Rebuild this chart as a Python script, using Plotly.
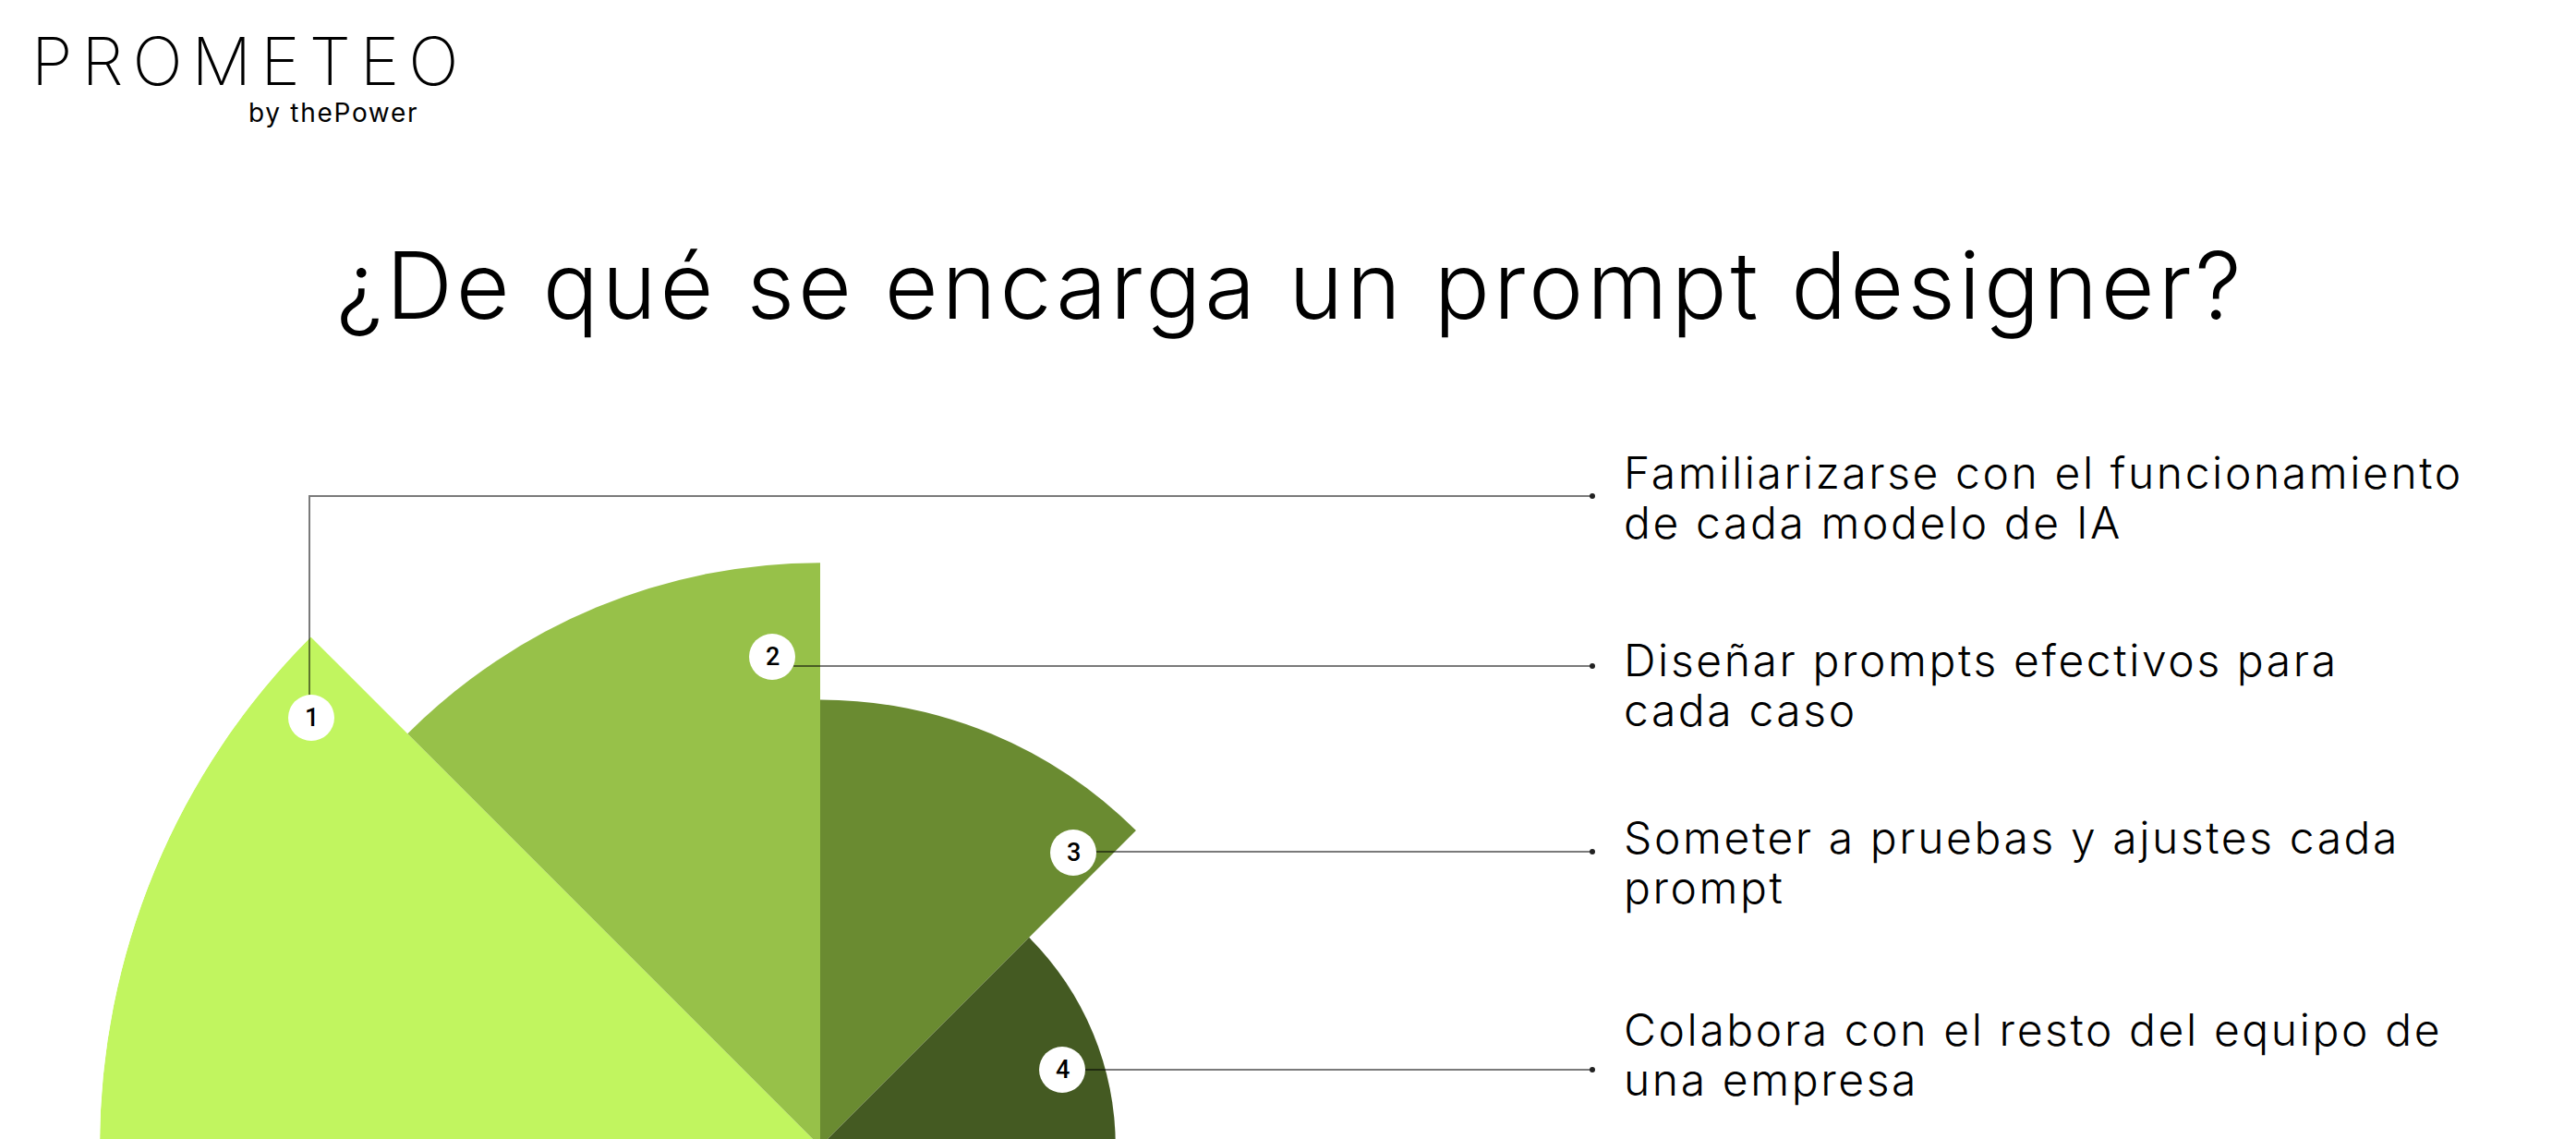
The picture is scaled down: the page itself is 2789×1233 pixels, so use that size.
import plotly.graph_objects as go

W, H = 2789, 1233

# ---- data ----
steps = ["1", "2", "3", "4"]
values = [100, 81, 62, 41]
theta_centers = [157.5, 112.5, 67.5, 22.5]
sector_width = [45, 45, 45, 45]
colors = ["#C1F55F", "#97C149", "#6A8B31", "#445A22"]
desc_line1 = ["Familiarizarse con el funcionamiento",
              "Diseñar prompts efectivos para",
              "Someter a pruebas y ajustes cada",
              "Colabora con el resto del equipo de"]
desc_line2 = ["de cada modelo de IA", "cada caso", "prompt", "una empresa"]
title_text = "¿De qué se encarga un prompt designer?"
logo_text = "PROMETEO"
logo_sub = "by thePower"

# ---- layout constants (pixels) ----
CX, R = 880, 780
badge_xy = [(329, 769), (828, 703), (1154, 915), (1142, 1150)]
badge_r = 25
leader_y = [529, 713, 914, 1150]
leader_x_end = 1716
text_x = 1748
line1_mid = [503, 706, 898, 1106]
line_gap = [54, 54, 54, 54]

FONT_TXT = "Inter"


def spaced(t, px):
    return f'<span style="letter-spacing:{px}px">{t}</span>'


fig = go.Figure()
for s, v, t, w, c in zip(steps, values, theta_centers, sector_width, colors):
    fig.add_trace(go.Barpolar(r=[v], theta=[t], width=[w], marker=dict(color=c, line=dict(width=0)),
                              name=s, showlegend=False, hoverinfo="skip"))

fig.add_trace(go.Scatter(x=[0, W], y=[0, H], mode="markers", marker=dict(opacity=0),
                         showlegend=False, hoverinfo="skip"))

shapes = []
ann = []
line_col = "rgba(0,0,0,0.52)"
# leader lines
bx, by = badge_xy[0]
shapes.append(dict(type="path", path=f"M {bx-2} {by-badge_r} L {bx-2} {leader_y[0]} L {leader_x_end} {leader_y[0]}",
                   line=dict(color=line_col, width=2), xref="x", yref="y", layer="above"))
for i in range(1, 4):
    bx, by = badge_xy[i]
    shapes.append(dict(type="line", x0=bx + badge_r - 2, x1=leader_x_end, y0=leader_y[i], y1=leader_y[i],
                       line=dict(color=line_col, width=2), xref="x", yref="y", layer="above"))
for i in range(4):
    shapes.append(dict(type="circle", x0=leader_x_end - 3, x1=leader_x_end + 3, y0=leader_y[i] - 3, y1=leader_y[i] + 3,
                       fillcolor="#222", line=dict(width=0), xref="x", yref="y", layer="above"))
# badges
for i, (bx, by) in enumerate(badge_xy):
    shapes.append(dict(type="circle", x0=bx - badge_r, x1=bx + badge_r, y0=by - badge_r, y1=by + badge_r,
                       fillcolor="white", line=dict(width=0), xref="x", yref="y", layer="above"))
    ann.append(dict(x=bx, y=by, text=steps[i], showarrow=False, xref="x", yref="y",
                    xanchor="center", yanchor="middle",
                    font=dict(family="Roboto", size=27, color="black", weight=500)))

# descriptions
for i in range(4):
    for j, txt in enumerate([desc_line1[i], desc_line2[i]]):
        ann.append(dict(x=text_x, y=line1_mid[i] + j * line_gap[i], text=spaced(txt, 2.6), showarrow=False,
                        xref="x", yref="y", xanchor="left", yanchor="middle",
                        font=dict(family=FONT_TXT, size=48, color="black", weight=300)))

# title
ann.append(dict(x=W / 2 - 5, y=300, text=spaced(title_text, 3.9), showarrow=False, xref="x", yref="y",
                xanchor="center", yanchor="middle", font=dict(family=FONT_TXT, size=100, color="black", weight=300)))

# logo
ann.append(dict(x=262, y=57, text=spaced(logo_text, 10), showarrow=False,
                xref="x", yref="y", xanchor="center", yanchor="middle",
                font=dict(family=FONT_TXT, size=72, color="black", weight=200)))
ann.append(dict(x=353, y=114, text=spaced(logo_sub, 1.7), showarrow=False, xref="x", yref="y",
                xanchor="center", yanchor="middle", font=dict(family=FONT_TXT, size=28, color="black", weight=400)))

fig.update_layout(
    width=W, height=H, margin=dict(l=0, r=0, t=0, b=0),
    paper_bgcolor="white", plot_bgcolor="rgba(0,0,0,0)",
    polar=dict(domain=dict(x=[(CX - R) / W, (CX + R) / W], y=[0, R / H]),
               sector=[0, 180], bgcolor="rgba(0,0,0,0)",
               radialaxis=dict(range=[0, 100], visible=False, showgrid=False),
               angularaxis=dict(visible=False, showgrid=False, direction="counterclockwise", rotation=0)),
    xaxis=dict(range=[0, W], visible=False, domain=[0, 1], fixedrange=True),
    yaxis=dict(range=[H, 0], visible=False, domain=[0, 1], fixedrange=True),
    shapes=shapes, annotations=ann, showlegend=False,
)
fig.write_html("out.html")
